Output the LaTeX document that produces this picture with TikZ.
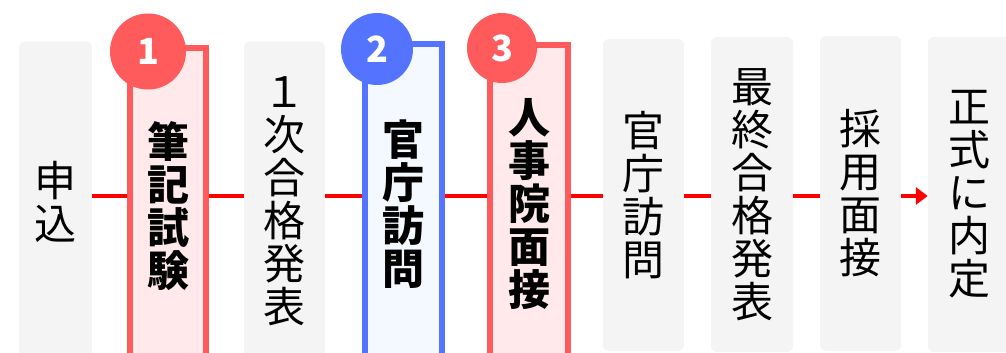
\documentclass[tikz,border=0pt]{standalone}
\usepackage{fontspec}
\setmainfont{Noto Sans CJK JP}
\usetikzlibrary{arrows.meta}
\definecolor{boxgrey}{HTML}{F4F4F4}
\definecolor{hired}{HTML}{FF5A5C}
\definecolor{pinkfill}{HTML}{FFE9EA}
\definecolor{hiblue}{HTML}{5474FF}
\definecolor{bluefill}{HTML}{F4F9FF}
\definecolor{linered}{HTML}{FF0000}
\tikzset{
  greybox/.style={draw=none, fill=boxgrey, rounded corners=6pt, inner sep=0pt, align=center,
    font=\fontsize{42}{43}\selectfont},
  redbox/.style={draw=hired, line width=6pt, fill=pinkfill, inner sep=0pt, align=center,
    font=\fontsize{42}{43}\selectfont\bfseries},
  bluebox/.style={draw=hiblue, line width=6pt, fill=bluefill, inner sep=0pt, align=center,
    font=\fontsize{42}{43}\selectfont\bfseries},
  badge/.style={circle, inner sep=0pt, text=white, font=\fontsize{36}{36}\selectfont\bfseries},
  flow/.style={draw=linered, line width=4pt},
}
\begin{document}
\begin{tikzpicture}[x=1pt,y=-1pt]
\useasboundingbox (0,0) rectangle (1006,353);
\coordinate (lv) at (0,196);
% grey boxes
\node[greybox, minimum width=73pt, minimum height=320pt] (b1) at (55.5,201.5) {申\\込};
\node[greybox, minimum width=81pt, minimum height=320pt] (b3) at (284.5,201.5) {１\\次\\合\\格\\発\\表};
\node[greybox, minimum width=81pt, minimum height=312pt] (b6) at (643.5,195) {官\\庁\\訪\\問};
\node[greybox, minimum width=82pt, minimum height=315pt] (b7) at (752,194.5) {最\\終\\合\\格\\発\\表};
\node[greybox, minimum width=81pt, minimum height=315pt] (b8) at (860.5,193.5) {採\\用\\面\\接};
\node[greybox, minimum width=82pt, minimum height=315pt] (b9) at (969,194.5) {正\\式\\に\\内\\定};
% highlighted boxes
\node[redbox, minimum width=76pt, minimum height=316pt] (b2) at (168,206) {筆\\記\\試\\験};
\node[bluebox, minimum width=77pt, minimum height=320pt] (b4) at (403.5,204) {官\\庁\\訪\\問};
\node[redbox, minimum width=78pt, minimum height=319pt] (b5) at (529,204.5) {人\\事\\院\\面\\接};
% connectors
\draw[flow] (b1.east |- lv) -- (b2.west |- lv);
\draw[flow] (b2.east |- lv) -- (b3.west |- lv);
\draw[flow] (b3.east |- lv) -- (b4.west |- lv);
\draw[flow] (b4.east |- lv) -- (b5.west |- lv);
\draw[flow] (b5.east |- lv) -- (b6.west |- lv);
\draw[flow] (b6.east |- lv) -- (b7.west |- lv);
\draw[flow] (b7.east |- lv) -- (b8.west |- lv);
\draw[flow, -{Triangle[length=12pt,width=17pt]}] (b8.east |- lv) -- (b9.west |- lv);
% badges
\node[badge, fill=hired, minimum size=76pt] (c1) at (148,51.5) {1};
\node[badge, fill=hiblue, minimum size=72pt] (c2) at (377,49) {2};
\node[badge, fill=hired, minimum size=70pt] (c3) at (502,48) {3};
\end{tikzpicture}
\end{document}
